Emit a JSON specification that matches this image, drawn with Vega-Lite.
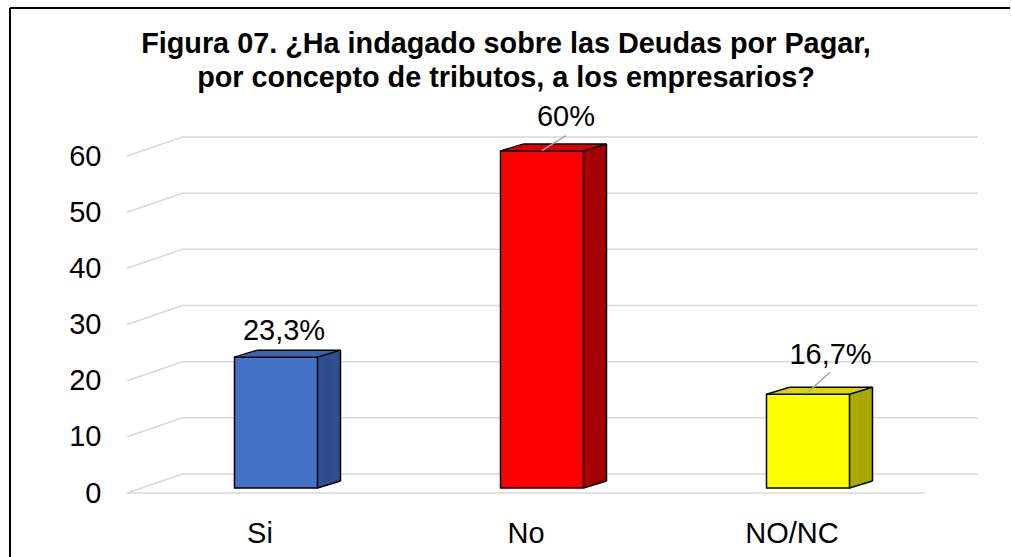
{
  "$schema": "https://vega.github.io/schema/vega-lite/v6.json",
  "width": 1002,
  "height": 549,
  "autosize": {"type": "none"},
  "padding": {"left": 10, "top": 8, "right": 0, "bottom": 0},
  "background": "white",
  "view": {"stroke": "black", "strokeWidth": 2, "strokeDash": [1000, 1553, 549, 0], "fill": "white"},
  "title": {
    "text": ["Figura 07. ¿Ha indagado sobre las Deudas por Pagar,", "por concepto de tributos, a los empresarios?"],
    "font": "Liberation Sans", "fontSize": 28.8, "fontWeight": "bold", "color": "black",
    "anchor": "middle", "frame": "group", "offset": -85, "dx": -5, "lineHeight": 34
  },
  "datasets": {
    "bars": [
      {"cat": "Si", "v": 23.3, "label": "23,3%"},
      {"cat": "No", "v": 60, "label": "60%"},
      {"cat": "NO/NC", "v": 16.7, "label": "16,7%"}
    ],
    "grid": [{"g": 0}, {"g": 10}, {"g": 20}, {"g": 30}, {"g": 40}, {"g": 50}, {"g": 60}]
  },
  "data": {"name": "bars"},
  "resolve": {"scale": {"color": "independent"}},
  "layer": [
    {"data": {"name": "grid"},
     "mark": {"type": "rule", "color": "#D9D9D9", "strokeWidth": 1.5, "xOffset": 54, "x2Offset": 53, "yOffset": -19},
     "encoding": {
       "x": {"datum": "Si", "type": "nominal", "bandPosition": 0, "title": null, "scale": {"type": "band", "domain": ["Si", "No", "NO/NC"], "range": [117, 915], "paddingInner": 0, "paddingOuter": 0}},
       "x2": {"datum": "NO/NC", "bandPosition": 1},
       "y": {"field": "g", "type": "quantitative", "title": null, "scale": {"domain": [0, 60], "range": [485, 148], "nice": false, "zero": true}}
     }},
    {"data": {"name": "grid"},
     "mark": {"type": "rule", "color": "#D9D9D9", "strokeWidth": 1.5, "x2Offset": 54, "y2Offset": -18.5},
     "encoding": {
       "x": {"datum": "Si", "type": "nominal", "bandPosition": 0},
       "x2": {"datum": "Si", "bandPosition": 0},
       "y": {"field": "g", "type": "quantitative"},
       "y2": {"field": "g"}
     }},
    {"data": {"name": "grid"},
     "transform": [{"filter": "datum.g == 0"}],
     "mark": {"type": "rule", "color": "#D9D9D9", "strokeWidth": 1.5},
     "encoding": {
       "x": {"datum": "Si", "type": "nominal", "bandPosition": 0},
       "x2": {"datum": "NO/NC", "bandPosition": 1},
       "y": {"field": "g", "type": "quantitative"}
     }},

    {"mark": {"type": "bar", "width": 83, "xOffset": 39, "yOffset": -12, "y2Offset": -12},
     "encoding": {"x": {"field": "cat", "type": "nominal"}, "y": {"field": "v", "type": "quantitative"}, "y2": {"datum": 0},
       "color": {"field": "cat", "type": "nominal", "legend": null, "scale": {"domain": ["Si", "No", "NO/NC"], "range": ["#3B65B2", "#DA0000", "#D9D900"]}}}},
    {"mark": {"type": "bar", "width": 83, "xOffset": 36.125, "yOffset": -11.125, "y2Offset": -11.125},
     "encoding": {"x": {"field": "cat", "type": "nominal"}, "y": {"field": "v", "type": "quantitative"}, "y2": {"datum": 0},
       "color": {"field": "cat", "type": "nominal", "legend": null, "scale": {"domain": ["Si", "No", "NO/NC"], "range": ["#3B65B2", "#DA0000", "#D9D900"]}}}},
    {"mark": {"type": "bar", "width": 83, "xOffset": 33.25, "yOffset": -10.25, "y2Offset": -10.25},
     "encoding": {"x": {"field": "cat", "type": "nominal"}, "y": {"field": "v", "type": "quantitative"}, "y2": {"datum": 0},
       "color": {"field": "cat", "type": "nominal", "legend": null, "scale": {"domain": ["Si", "No", "NO/NC"], "range": ["#3B65B2", "#DA0000", "#D9D900"]}}}},
    {"mark": {"type": "bar", "width": 83, "xOffset": 30.375, "yOffset": -9.375, "y2Offset": -9.375},
     "encoding": {"x": {"field": "cat", "type": "nominal"}, "y": {"field": "v", "type": "quantitative"}, "y2": {"datum": 0},
       "color": {"field": "cat", "type": "nominal", "legend": null, "scale": {"domain": ["Si", "No", "NO/NC"], "range": ["#3B65B2", "#DA0000", "#D9D900"]}}}},
    {"mark": {"type": "bar", "width": 83, "xOffset": 27.5, "yOffset": -8.5, "y2Offset": -8.5},
     "encoding": {"x": {"field": "cat", "type": "nominal"}, "y": {"field": "v", "type": "quantitative"}, "y2": {"datum": 0},
       "color": {"field": "cat", "type": "nominal", "legend": null, "scale": {"domain": ["Si", "No", "NO/NC"], "range": ["#3B65B2", "#DA0000", "#D9D900"]}}}},
    {"mark": {"type": "bar", "width": 83, "xOffset": 24.625, "yOffset": -7.625, "y2Offset": -7.625},
     "encoding": {"x": {"field": "cat", "type": "nominal"}, "y": {"field": "v", "type": "quantitative"}, "y2": {"datum": 0},
       "color": {"field": "cat", "type": "nominal", "legend": null, "scale": {"domain": ["Si", "No", "NO/NC"], "range": ["#3B65B2", "#DA0000", "#D9D900"]}}}},
    {"mark": {"type": "bar", "width": 83, "xOffset": 21.75, "yOffset": -6.75, "y2Offset": -6.75},
     "encoding": {"x": {"field": "cat", "type": "nominal"}, "y": {"field": "v", "type": "quantitative"}, "y2": {"datum": 0},
       "color": {"field": "cat", "type": "nominal", "legend": null, "scale": {"domain": ["Si", "No", "NO/NC"], "range": ["#3B65B2", "#DA0000", "#D9D900"]}}}},
    {"mark": {"type": "bar", "width": 83, "xOffset": 18.875, "yOffset": -5.875, "y2Offset": -5.875},
     "encoding": {"x": {"field": "cat", "type": "nominal"}, "y": {"field": "v", "type": "quantitative"}, "y2": {"datum": 0},
       "color": {"field": "cat", "type": "nominal", "legend": null, "scale": {"domain": ["Si", "No", "NO/NC"], "range": ["#3B65B2", "#DA0000", "#D9D900"]}}}},

    {"mark": {"type": "bar", "width": 2, "xOffset": 57.5, "yOffset": -5, "y2Offset": -5},
     "encoding": {"x": {"field": "cat", "type": "nominal"}, "y": {"field": "v", "type": "quantitative"}, "y2": {"datum": 0},
       "color": {"field": "cat", "type": "nominal", "legend": null, "scale": {"domain": ["Si", "No", "NO/NC"], "range": ["#2F4F8C", "#A00000", "#A6A600"]}}}},
    {"mark": {"type": "bar", "width": 2, "xOffset": 59.417, "yOffset": -5.583, "y2Offset": -5.583},
     "encoding": {"x": {"field": "cat", "type": "nominal"}, "y": {"field": "v", "type": "quantitative"}, "y2": {"datum": 0},
       "color": {"field": "cat", "type": "nominal", "legend": null, "scale": {"domain": ["Si", "No", "NO/NC"], "range": ["#2F4F8C", "#A00000", "#A6A600"]}}}},
    {"mark": {"type": "bar", "width": 2, "xOffset": 61.333, "yOffset": -6.167, "y2Offset": -6.167},
     "encoding": {"x": {"field": "cat", "type": "nominal"}, "y": {"field": "v", "type": "quantitative"}, "y2": {"datum": 0},
       "color": {"field": "cat", "type": "nominal", "legend": null, "scale": {"domain": ["Si", "No", "NO/NC"], "range": ["#2F4F8C", "#A00000", "#A6A600"]}}}},
    {"mark": {"type": "bar", "width": 2, "xOffset": 63.25, "yOffset": -6.75, "y2Offset": -6.75},
     "encoding": {"x": {"field": "cat", "type": "nominal"}, "y": {"field": "v", "type": "quantitative"}, "y2": {"datum": 0},
       "color": {"field": "cat", "type": "nominal", "legend": null, "scale": {"domain": ["Si", "No", "NO/NC"], "range": ["#2F4F8C", "#A00000", "#A6A600"]}}}},
    {"mark": {"type": "bar", "width": 2, "xOffset": 65.167, "yOffset": -7.333, "y2Offset": -7.333},
     "encoding": {"x": {"field": "cat", "type": "nominal"}, "y": {"field": "v", "type": "quantitative"}, "y2": {"datum": 0},
       "color": {"field": "cat", "type": "nominal", "legend": null, "scale": {"domain": ["Si", "No", "NO/NC"], "range": ["#2F4F8C", "#A00000", "#A6A600"]}}}},
    {"mark": {"type": "bar", "width": 2, "xOffset": 67.083, "yOffset": -7.917, "y2Offset": -7.917},
     "encoding": {"x": {"field": "cat", "type": "nominal"}, "y": {"field": "v", "type": "quantitative"}, "y2": {"datum": 0},
       "color": {"field": "cat", "type": "nominal", "legend": null, "scale": {"domain": ["Si", "No", "NO/NC"], "range": ["#2F4F8C", "#A00000", "#A6A600"]}}}},
    {"mark": {"type": "bar", "width": 2, "xOffset": 69, "yOffset": -8.5, "y2Offset": -8.5},
     "encoding": {"x": {"field": "cat", "type": "nominal"}, "y": {"field": "v", "type": "quantitative"}, "y2": {"datum": 0},
       "color": {"field": "cat", "type": "nominal", "legend": null, "scale": {"domain": ["Si", "No", "NO/NC"], "range": ["#2F4F8C", "#A00000", "#A6A600"]}}}},
    {"mark": {"type": "bar", "width": 2, "xOffset": 70.917, "yOffset": -9.083, "y2Offset": -9.083},
     "encoding": {"x": {"field": "cat", "type": "nominal"}, "y": {"field": "v", "type": "quantitative"}, "y2": {"datum": 0},
       "color": {"field": "cat", "type": "nominal", "legend": null, "scale": {"domain": ["Si", "No", "NO/NC"], "range": ["#2F4F8C", "#A00000", "#A6A600"]}}}},
    {"mark": {"type": "bar", "width": 2, "xOffset": 72.833, "yOffset": -9.667, "y2Offset": -9.667},
     "encoding": {"x": {"field": "cat", "type": "nominal"}, "y": {"field": "v", "type": "quantitative"}, "y2": {"datum": 0},
       "color": {"field": "cat", "type": "nominal", "legend": null, "scale": {"domain": ["Si", "No", "NO/NC"], "range": ["#2F4F8C", "#A00000", "#A6A600"]}}}},
    {"mark": {"type": "bar", "width": 2, "xOffset": 74.75, "yOffset": -10.25, "y2Offset": -10.25},
     "encoding": {"x": {"field": "cat", "type": "nominal"}, "y": {"field": "v", "type": "quantitative"}, "y2": {"datum": 0},
       "color": {"field": "cat", "type": "nominal", "legend": null, "scale": {"domain": ["Si", "No", "NO/NC"], "range": ["#2F4F8C", "#A00000", "#A6A600"]}}}},
    {"mark": {"type": "bar", "width": 2, "xOffset": 76.667, "yOffset": -10.833, "y2Offset": -10.833},
     "encoding": {"x": {"field": "cat", "type": "nominal"}, "y": {"field": "v", "type": "quantitative"}, "y2": {"datum": 0},
       "color": {"field": "cat", "type": "nominal", "legend": null, "scale": {"domain": ["Si", "No", "NO/NC"], "range": ["#2F4F8C", "#A00000", "#A6A600"]}}}},
    {"mark": {"type": "bar", "width": 2, "xOffset": 78.583, "yOffset": -11.417, "y2Offset": -11.417},
     "encoding": {"x": {"field": "cat", "type": "nominal"}, "y": {"field": "v", "type": "quantitative"}, "y2": {"datum": 0},
       "color": {"field": "cat", "type": "nominal", "legend": null, "scale": {"domain": ["Si", "No", "NO/NC"], "range": ["#2F4F8C", "#A00000", "#A6A600"]}}}},
    {"mark": {"type": "bar", "width": 2, "xOffset": 80, "yOffset": -11.85, "y2Offset": -11.85},
     "encoding": {"x": {"field": "cat", "type": "nominal"}, "y": {"field": "v", "type": "quantitative"}, "y2": {"datum": 0},
       "color": {"field": "cat", "type": "nominal", "legend": null, "scale": {"domain": ["Si", "No", "NO/NC"], "range": ["#2F4F8C", "#A00000", "#A6A600"]}}}},

    {"mark": {"type": "bar", "width": 83, "xOffset": 16, "yOffset": -5, "y2Offset": -5, "stroke": "black", "strokeWidth": 1.5},
     "encoding": {"x": {"field": "cat", "type": "nominal", "title": null}, "y": {"field": "v", "type": "quantitative", "title": null}, "y2": {"datum": 0},
       "color": {"field": "cat", "type": "nominal", "legend": null, "scale": {"domain": ["Si", "No", "NO/NC"], "range": ["#4472C4", "#FF0000", "#FFFF00"]}}}},

    {"mark": {"type": "rule", "color": "black", "strokeWidth": 1.5, "xOffset": -2.5, "x2Offset": 80.5, "yOffset": -12},
     "encoding": {"x": {"field": "cat", "type": "nominal", "bandPosition": 0.5}, "x2": {"field": "cat", "bandPosition": 0.5}, "y": {"field": "v", "type": "quantitative"}}},
    {"mark": {"type": "rule", "color": "black", "strokeWidth": 1.5, "xOffset": 80.5, "yOffset": -12, "y2Offset": -12},
     "encoding": {"x": {"field": "cat", "type": "nominal", "bandPosition": 0.5}, "y": {"field": "v", "type": "quantitative"}, "y2": {"datum": 0}}},
    {"mark": {"type": "rule", "color": "black", "strokeWidth": 1.5, "xOffset": -25.5, "x2Offset": -2.5, "yOffset": -5, "y2Offset": -12},
     "encoding": {"x": {"field": "cat", "type": "nominal", "bandPosition": 0.5}, "x2": {"field": "cat", "bandPosition": 0.5}, "y": {"field": "v", "type": "quantitative"}, "y2": {"field": "v"}}},
    {"mark": {"type": "rule", "color": "black", "strokeWidth": 1.5, "xOffset": 57.5, "x2Offset": 80.5, "yOffset": -5, "y2Offset": -12},
     "encoding": {"x": {"field": "cat", "type": "nominal", "bandPosition": 0.5}, "x2": {"field": "cat", "bandPosition": 0.5}, "y": {"field": "v", "type": "quantitative"}, "y2": {"field": "v"}}},
    {"mark": {"type": "rule", "color": "black", "strokeWidth": 1.5, "xOffset": 57.5, "x2Offset": 80.5, "yOffset": -5, "y2Offset": -12},
     "encoding": {"x": {"field": "cat", "type": "nominal", "bandPosition": 0.5}, "x2": {"field": "cat", "bandPosition": 0.5}, "y": {"datum": 0, "type": "quantitative"}, "y2": {"datum": 0}}},

    {"transform": [{"filter": "datum.cat == 'No'"}],
     "mark": {"type": "rule", "color": "#A6A6A6", "strokeWidth": 1.5, "xOffset": 15.7, "x2Offset": 40, "yOffset": -5.3, "y2Offset": -20.3},
     "encoding": {"x": {"field": "cat", "type": "nominal", "bandPosition": 0.5}, "x2": {"field": "cat", "bandPosition": 0.5}, "y": {"field": "v", "type": "quantitative"}, "y2": {"field": "v"}}},
    {"transform": [{"filter": "datum.cat == 'NO/NC'"}],
     "mark": {"type": "rule", "color": "#A6A6A6", "strokeWidth": 1.5, "xOffset": 14.7, "x2Offset": 38, "yOffset": -5.9, "y2Offset": -26.9},
     "encoding": {"x": {"field": "cat", "type": "nominal", "bandPosition": 0.5}, "x2": {"field": "cat", "bandPosition": 0.5}, "y": {"field": "v", "type": "quantitative"}, "y2": {"field": "v"}}},

    {"transform": [{"filter": "datum.cat == 'Si'"}],
     "mark": {"type": "text", "font": "Liberation Sans", "fontSize": 29, "color": "black", "baseline": "alphabetic", "align": "center", "dx": 24, "dy": -22},
     "encoding": {"x": {"field": "cat", "type": "nominal"}, "y": {"field": "v", "type": "quantitative"}, "text": {"field": "label"}}},
    {"transform": [{"filter": "datum.cat == 'No'"}],
     "mark": {"type": "text", "font": "Liberation Sans", "fontSize": 29, "color": "black", "baseline": "alphabetic", "align": "center", "dx": 40, "dy": -30},
     "encoding": {"x": {"field": "cat", "type": "nominal"}, "y": {"field": "v", "type": "quantitative"}, "text": {"field": "label"}}},
    {"transform": [{"filter": "datum.cat == 'NO/NC'"}],
     "mark": {"type": "text", "font": "Liberation Sans", "fontSize": 29, "color": "black", "baseline": "alphabetic", "align": "center", "dx": 38.5, "dy": -35},
     "encoding": {"x": {"field": "cat", "type": "nominal"}, "y": {"field": "v", "type": "quantitative"}, "text": {"field": "label"}}}
  ],
  "config": {
    "axis": {"domain": false, "ticks": false, "grid": false, "labelFont": "Liberation Sans", "labelFontSize": 29, "labelColor": "black", "titleOpacity": 0},
    "axisX": {"offset": -64, "labelPadding": 49, "labelBaseline": "alphabetic", "labelAngle": 0},
    "axisY": {"offset": -93, "labelPadding": 2, "tickCount": 6}
  }
}
